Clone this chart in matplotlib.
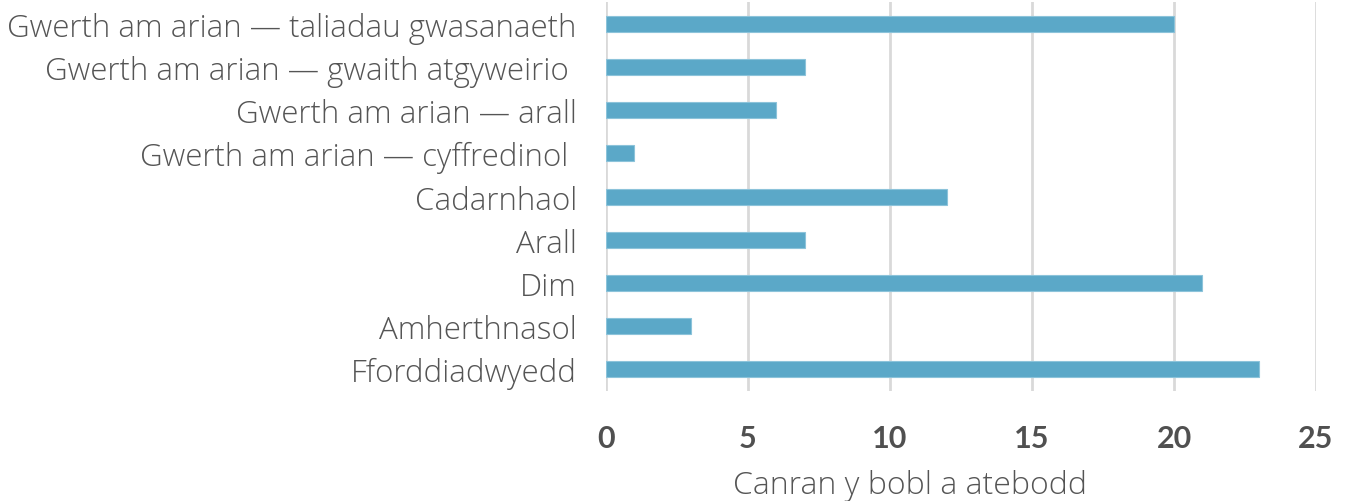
import matplotlib
matplotlib.use("Agg")
import matplotlib.pyplot as plt

categories = [
    "Gwerth am arian — taliadau gwasanaeth",
    "Gwerth am arian — gwaith atgyweirio ",
    "Gwerth am arian — arall",
    "Gwerth am arian — cyffredinol ",
    "Cadarnhaol",
    "Arall",
    "Dim",
    "Amherthnasol",
    "Fforddiadwyedd",
]
values = [20, 7, 6, 1, 12, 7, 21, 3, 23]
xticks = [0, 5, 10, 15, 20, 25]
xlabel = "Canran y bobl a atebodd"

fig = plt.figure(figsize=(13.52, 5.02), dpi=100)
ax = fig.add_axes([0.4482, 0.219, 0.9734 - 0.4482, 0.994 - 0.219])

pos = list(range(len(categories)))
ax.barh(pos, values, height=0.37, color="#5ba8c8", edgecolor="#8cc3da", linewidth=0.8, zorder=3)
ax.set_ylim(len(categories) - 0.5, -0.5)
ax.set_xlim(0, 25)
ax.set_yticks(pos)
ax.set_yticklabels(categories, fontsize=22.5, color="#555555", family=["Open Sans", "DejaVu Sans"], fontweight="light")
ax.set_xticks(xticks)
ax.set_xticklabels([str(t) for t in xticks], fontsize=22, color="#505050", family=["Lato", "DejaVu Sans"], fontweight="bold")
ax.tick_params(axis="y", length=0, pad=21)
ax.tick_params(axis="x", length=0, pad=24)
ax.grid(axis="x", color="#d9d9d9", linewidth=2, zorder=0)
for s in ax.spines.values():
    s.set_visible(False)
ax.set_xlabel(xlabel, fontsize=23, color="#555555", family=["Open Sans", "DejaVu Sans"], fontweight="light")
ax.xaxis.set_label_coords(0.428, -0.2)

fig.savefig("out.png", dpi=100)
